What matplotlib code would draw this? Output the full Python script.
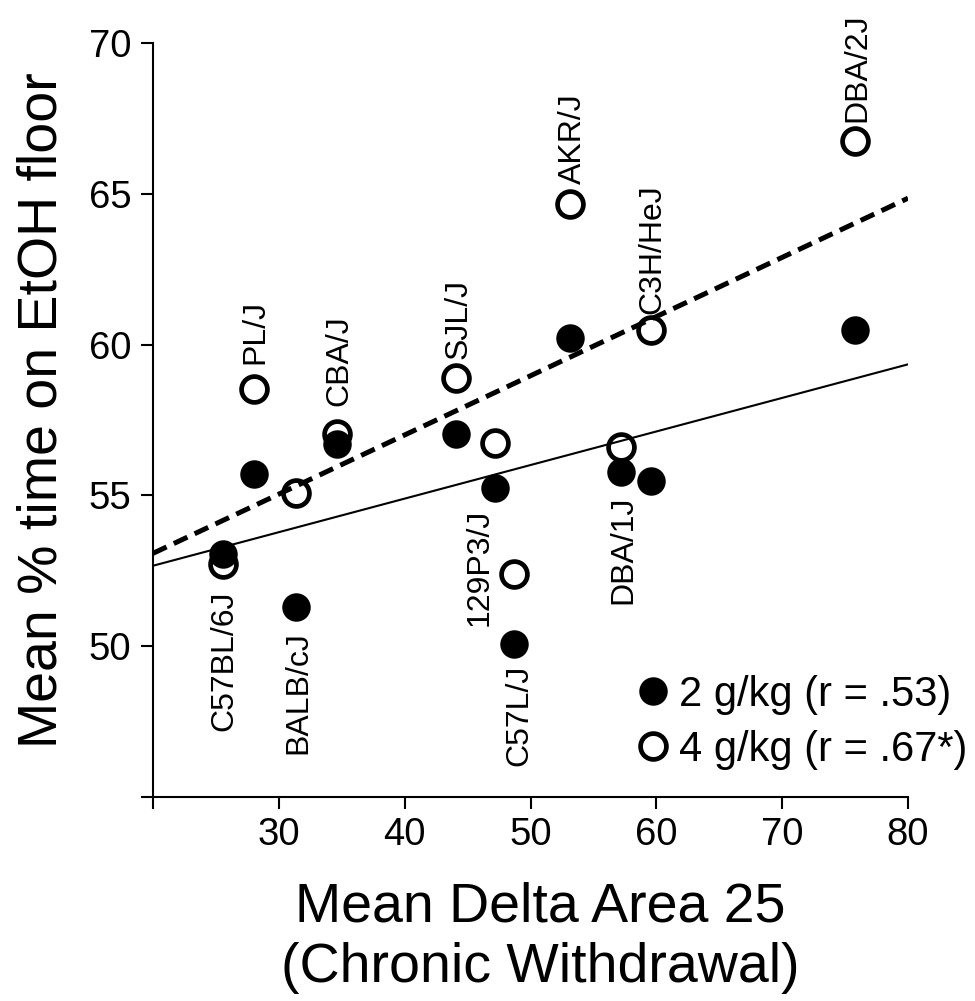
import matplotlib
matplotlib.use('Agg')

import matplotlib.pyplot as plt
import numpy as np
from matplotlib.lines import Line2D

plt.rcParams['font.family'] = ['Liberation Sans', 'DejaVu Sans']

# strains, in order of mean delta area
strains = ['C57BL/6J', 'PL/J', 'BALB/cJ', 'CBA/J', 'SJL/J', '129P3/J',
           'C57L/J', 'AKR/J', 'DBA/1J', 'C3H/HeJ', 'DBA/2J']
delta_area = [25.55, 28.0, 31.4, 34.6, 44.05, 47.2, 48.7, 53.15, 57.2, 59.6, 75.8]
time_2g = [53.07, 55.71, 51.3, 56.7, 57.03, 55.24, 50.06, 60.21, 55.79, 55.48, 60.5]
time_4g = [52.71, 58.53, 55.07, 57.03, 58.9, 56.73, 52.38, 64.67, 56.59, 60.49, 66.75]

legend_labels = ['2 g/kg (r = .53)', '4 g/kg (r = .67*)']

# where each strain name sits: which dose it hangs off, up/down, offsets in px
label_layout = {
    'C57BL/6J': ('4g', 'below', 2, 26),
    'PL/J': ('4g', 'above', 2, 25),
    'BALB/cJ': ('2g', 'below', 2, 24),
    'CBA/J': ('4g', 'above', 3, 28),
    'SJL/J': ('4g', 'above', 3, 19),
    '129P3/J': ('2g', 'below', -16, 20),
    'C57L/J': ('2g', 'below', 5, 20),
    'AKR/J': ('4g', 'above', 3, 20),
    'DBA/1J': ('2g', 'below', 2, 24),
    'C3H/HeJ': ('4g', 'above', 1, 16),
    'DBA/2J': ('4g', 'above', 2, 19),
}

px = 0.72  # points per pixel at dpi 100

x = np.array(delta_area)
y2 = np.array(time_2g)
y4 = np.array(time_4g)

fig = plt.figure(figsize=(9.75, 10.01), dpi=100)
ax = fig.add_axes([153 / 975, 1 - 797 / 1001, 755 / 975, 754 / 1001])

# regression lines
xx = np.array([20, 80])
b2 = np.polyfit(x, y2, 1)
b4 = np.polyfit(x, y4, 1)
ax.plot(xx, np.polyval(b2, xx), color='black', lw=1.5, zorder=2)
ax.plot(xx, np.polyval(b4, xx), color='black', lw=3.6, zorder=2,
        dashes=(3.0, 1.6), dash_capstyle='butt')

# points: open under filled
ax.plot(x, y4, 'o', ms=18.6, mfc='none', mec='black', mew=3.4, zorder=3,
        clip_on=False)
ax.plot(x, y2, 'o', ms=20.5, mfc='black', mec='black', mew=0, zorder=4,
        clip_on=False)

for i, name in enumerate(strains):
    dose, side, dx, dy = label_layout[name]
    yv = y4[i] if dose == '4g' else y2[i]
    if side == 'above':
        off = (dx * px, dy * px)
        va = 'bottom'
    else:
        off = (dx * px, -dy * px)
        va = 'top'
    ax.annotate(name, (x[i], yv), xytext=off, textcoords='offset points',
                rotation=90, ha='center', va=va, fontsize=23)

ax.set_xlim(20, 80)
ax.set_ylim(45, 70)
ax.set_xticks([20, 30, 40, 50, 60, 70, 80])
ax.set_xticklabels(['', '30', '40', '50', '60', '70', '80'])
ax.set_yticks([45, 50, 55, 60, 65, 70])
ax.set_yticklabels(['', '50', '55', '60', '65', '70'])
ax.tick_params(axis='both', direction='out', length=8.6, width=1.5,
               labelsize=27.5)
ax.tick_params(axis='y', pad=7)
ax.tick_params(axis='x', pad=5.5)
for s in ['top', 'right']:
    ax.spines[s].set_visible(False)
for s in ['left', 'bottom']:
    ax.spines[s].set_linewidth(1.5)

fig.text(0.0437, 1 - 410 / 1001, 'Mean % time on EtOH floor', rotation=90,
         ha='center', va='center', fontsize=40)
fig.text(540 / 975, 1 - 881.5 / 1001,
         'Mean Delta Area 25\n(Chronic Withdrawal)',
         ha='center', va='top', fontsize=40, linespacing=1.2)

handles = [
    Line2D([], [], ls='none', marker='o', ms=20.5, mfc='black', mec='black',
           mew=0),
    Line2D([], [], ls='none', marker='o', ms=18.6, mfc='none', mec='black',
           mew=3.4),
]
fig.legend(handles, legend_labels, loc='upper left',
           bbox_to_anchor=(637 / 975, 1 - 675 / 1001), frameon=False,
           fontsize=30, handlelength=0.75, handletextpad=0.25,
           labelspacing=0.36, borderpad=0, borderaxespad=0)

fig.savefig('out.png', dpi=100)
